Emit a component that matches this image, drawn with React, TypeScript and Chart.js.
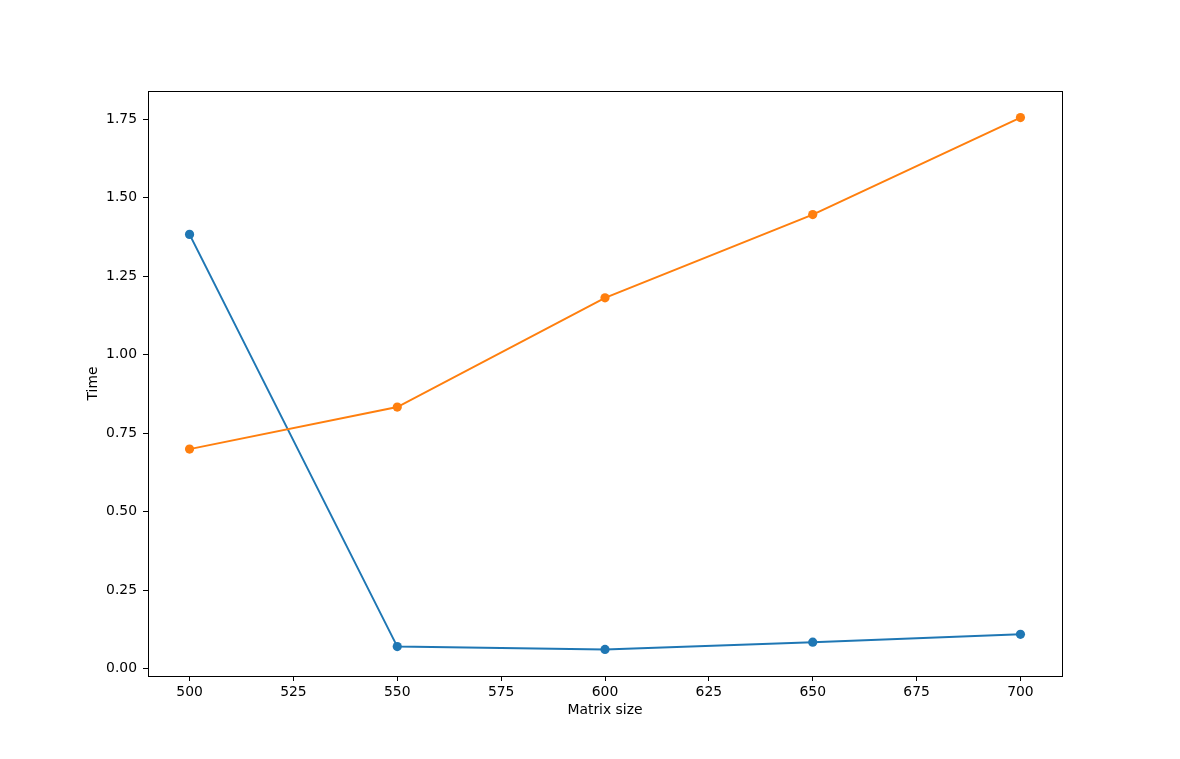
import React, { useEffect, useRef } from 'react';
import { Chart, registerables } from 'chart.js';

Chart.register(...registerables);

const matrixSizes = [500, 550, 600, 650, 700];
const blueTimes = [1.383, 0.07, 0.061, 0.084, 0.109];
const orangeTimes = [0.699, 0.833, 1.181, 1.446, 1.755];
const xTicks = [500, 525, 550, 575, 600, 625, 650, 675, 700];
const yTicks = [0, 0.25, 0.5, 0.75, 1.0, 1.25, 1.5, 1.75];

const FONT = { family: 'DejaVu Sans', size: 13.9 };

// matplotlib style 5% margins around the data
const allY = [...blueTimes, ...orangeTimes];
const yLo = Math.min(...allY);
const yHi = Math.max(...allY);
const yPad = (yHi - yLo) * 0.05;
const xLo = Math.min(...matrixSizes);
const xHi = Math.max(...matrixSizes);
const xPad = (xHi - xLo) * 0.05;

const frameBox = {
    id: 'frameBox',
    afterDraw(chart: Chart) {
        const { ctx, chartArea } = chart;
        ctx.save();
        ctx.strokeStyle = '#000';
        ctx.lineWidth = 1;
        ctx.strokeRect(chartArea.left + 0.5, chartArea.top + 0.5, chartArea.right - chartArea.left, chartArea.bottom - chartArea.top);
        ctx.restore();
    },
};

const App: React.FC = () => {
    const chartRef = useRef<HTMLCanvasElement | null>(null);

    useEffect(() => {
        document.body.style.margin = '0';
        if (!chartRef.current) return;
        const ctx = chartRef.current.getContext('2d');
        if (!ctx) return;

        const toPts = (ys: number[]) => matrixSizes.map((x, i) => ({ x, y: ys[i] }));

        const myChart = new Chart(ctx, {
            type: 'line',
            data: {
                datasets: [
                    {
                        label: 'blue',
                        data: toPts(blueTimes),
                        borderColor: '#1f77b4',
                        backgroundColor: '#1f77b4',
                        borderWidth: 2,
                        pointRadius: 4.6,
                        pointBorderWidth: 0,
                        tension: 0,
                        order: 1,
                    },
                    {
                        label: 'orange',
                        data: toPts(orangeTimes),
                        borderColor: '#ff7f0e',
                        backgroundColor: '#ff7f0e',
                        borderWidth: 2,
                        pointRadius: 4.6,
                        pointBorderWidth: 0,
                        tension: 0,
                        order: 0,
                    },
                ],
            },
            options: {
                responsive: false,
                animation: false,
                layout: { padding: { top: 91, right: 118, left: 0, bottom: 0 } },
                plugins: {
                    legend: { display: false },
                    tooltip: { enabled: false },
                },
                scales: {
                    x: {
                        type: 'linear',
                        min: xLo - xPad,
                        max: xHi + xPad,
                        afterFit: (scale: any) => {
                            scale.height = 83;
                        },
                        afterBuildTicks: (scale: any) => {
                            scale.ticks = xTicks.map((v) => ({ value: v }));
                        },
                        grid: { display: true, drawOnChartArea: false, drawTicks: true, tickLength: 5, color: '#000' },
                        border: { display: true, color: '#000' },
                        ticks: {
                            color: '#000',
                            font: FONT,
                            padding: 3,
                            maxRotation: 0,
                            callback: (v: any) => String(v),
                        },
                        title: {
                            display: true,
                            text: 'Matrix size',
                            color: '#000',
                            font: FONT,
                            padding: { top: 0, bottom: 40 },
                        },
                    },
                    y: {
                        type: 'linear',
                        min: yLo - yPad,
                        max: yHi + yPad,
                        afterFit: (scale: any) => {
                            scale.width = 148;
                        },
                        afterBuildTicks: (scale: any) => {
                            scale.ticks = yTicks.map((v) => ({ value: v }));
                        },
                        grid: { display: true, drawOnChartArea: false, drawTicks: true, tickLength: 5, color: '#000' },
                        border: { display: true, color: '#000' },
                        ticks: {
                            color: '#000',
                            font: FONT,
                            padding: 6,
                            callback: (v: any) => Number(v).toFixed(2),
                        },
                        title: {
                            display: true,
                            text: 'Time',
                            color: '#000',
                            font: FONT,
                            padding: { top: 85, bottom: 0 },
                        },
                    },
                },
            },
            plugins: [frameBox],
        });

        return () => {
            myChart.destroy();
        };
    }, []);

    return <canvas ref={chartRef} width={1180} height={759} />;
};

export default App;
